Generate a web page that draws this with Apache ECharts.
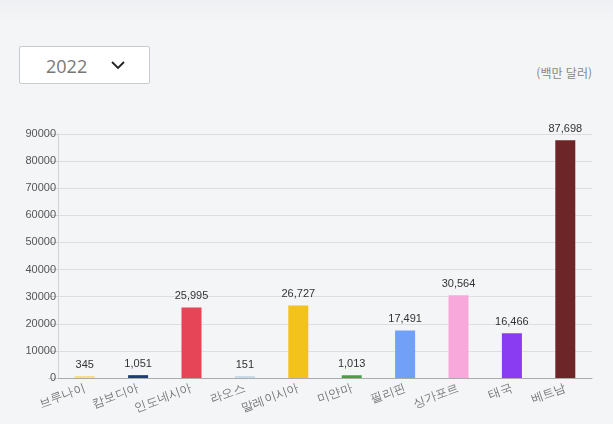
<!DOCTYPE html>
<html lang="ko">

<head>
  <meta charset="UTF-8">
  <title>Document</title>
  <style>
    body { margin: 0; background: #f4f5f7; font-family: "Noto Sans CJK KR", "Noto Sans", sans-serif; }
    #all { position: relative; width: 613px; height: 424px; overflow: hidden;
      background: linear-gradient(#eef0f3 0px, #f4f5f7 22px); }
    #sel { position: absolute; left: 19px; top: 46px; width: 129px; height: 36px; background: #fff;
      border: 1px solid #c9cbcf; border-radius: 2px; }
    #sel span { position: absolute; left: 26px; top: 7px; font-size: 18px; color: #777; font-family: "Open Sans", sans-serif; }
    #sel svg { position: absolute; left: 90px; top: 13px; }
    #unit { position: absolute; right: 21px; top: 64px; font-size: 12px; color: #888; }
  </style>
</head>

<body>
  <div id="all">
    <div id="sel"><span>2022</span>
      <svg width="16" height="10" viewBox="0 0 16 10"><polyline points="2,2 8,8 14,2" fill="none" stroke="#222" stroke-width="1.8"/></svg>
    </div>
    <div id="unit">(백만 달러)</div>
    <div id="main" style="position:absolute;left:0;top:0;width: 613px;height: 424px;"></div>
  </div>
</body>
<script src="https://cdn.jsdelivr.net/npm/echarts@6/dist/echarts.min.js"></script>
<script>
  var countries = ['브루나이', '캄보디아', '인도네시아', '라오스', '말레이시아', '미얀마', '필리핀', '싱가포르', '태국', '베트남'];
  var values = [345, 1051, 25995, 151, 26727, 1013, 17491, 30564, 16466, 87698];
  var colors = ['#f2e08a', '#1d3c78', '#e64558', '#c9dbe8', '#f4c21c', '#44a047', '#70a0f7', '#f8a8da', '#8a3cf2', '#6e2528'];
  var yTicks = [0, 10000, 20000, 30000, 40000, 50000, 60000, 70000, 80000, 90000];

  var myChart = echarts.init(document.getElementById('main'));
  var option = {
    animation: false,
    grid: { left: 58, right: 21, top: 134, bottom: 46 },
    xAxis: {
      type: 'category',
      data: countries,
      axisLine: { lineStyle: { color: '#aaa' } },
      axisTick: { show: false },
      axisLabel: { rotate: 20, color: '#777', fontSize: 12, margin: 10, interval: 0 }
    },
    yAxis: {
      type: 'value',
      min: yTicks[0],
      max: yTicks[yTicks.length - 1],
      interval: 10000,
      axisLine: { show: true, lineStyle: { color: '#d0d2d6' } },
      axisTick: { show: true, length: 10, lineStyle: { color: '#d0d2d6' } },
      axisLabel: { color: '#555', fontSize: 11, margin: 2, fontFamily: 'Arial',
        formatter: function (v) { return String(v); } },
      splitLine: { lineStyle: { color: '#dcdee2' } }
    },
    series: [{
      type: 'bar',
      barWidth: 20,
      barMinHeight: 2,
      data: values.map(function (v, i) {
        return { value: v, itemStyle: { color: colors[i] } };
      }),
      label: {
        show: true,
        position: 'top',
        color: '#333',
        fontSize: 11,
        fontFamily: 'Arial',
        distance: 6,
        formatter: function (p) { return p.value.toLocaleString('en-US'); }
      }
    }]
  };
  option && myChart.setOption(option);
</script>

</html>
